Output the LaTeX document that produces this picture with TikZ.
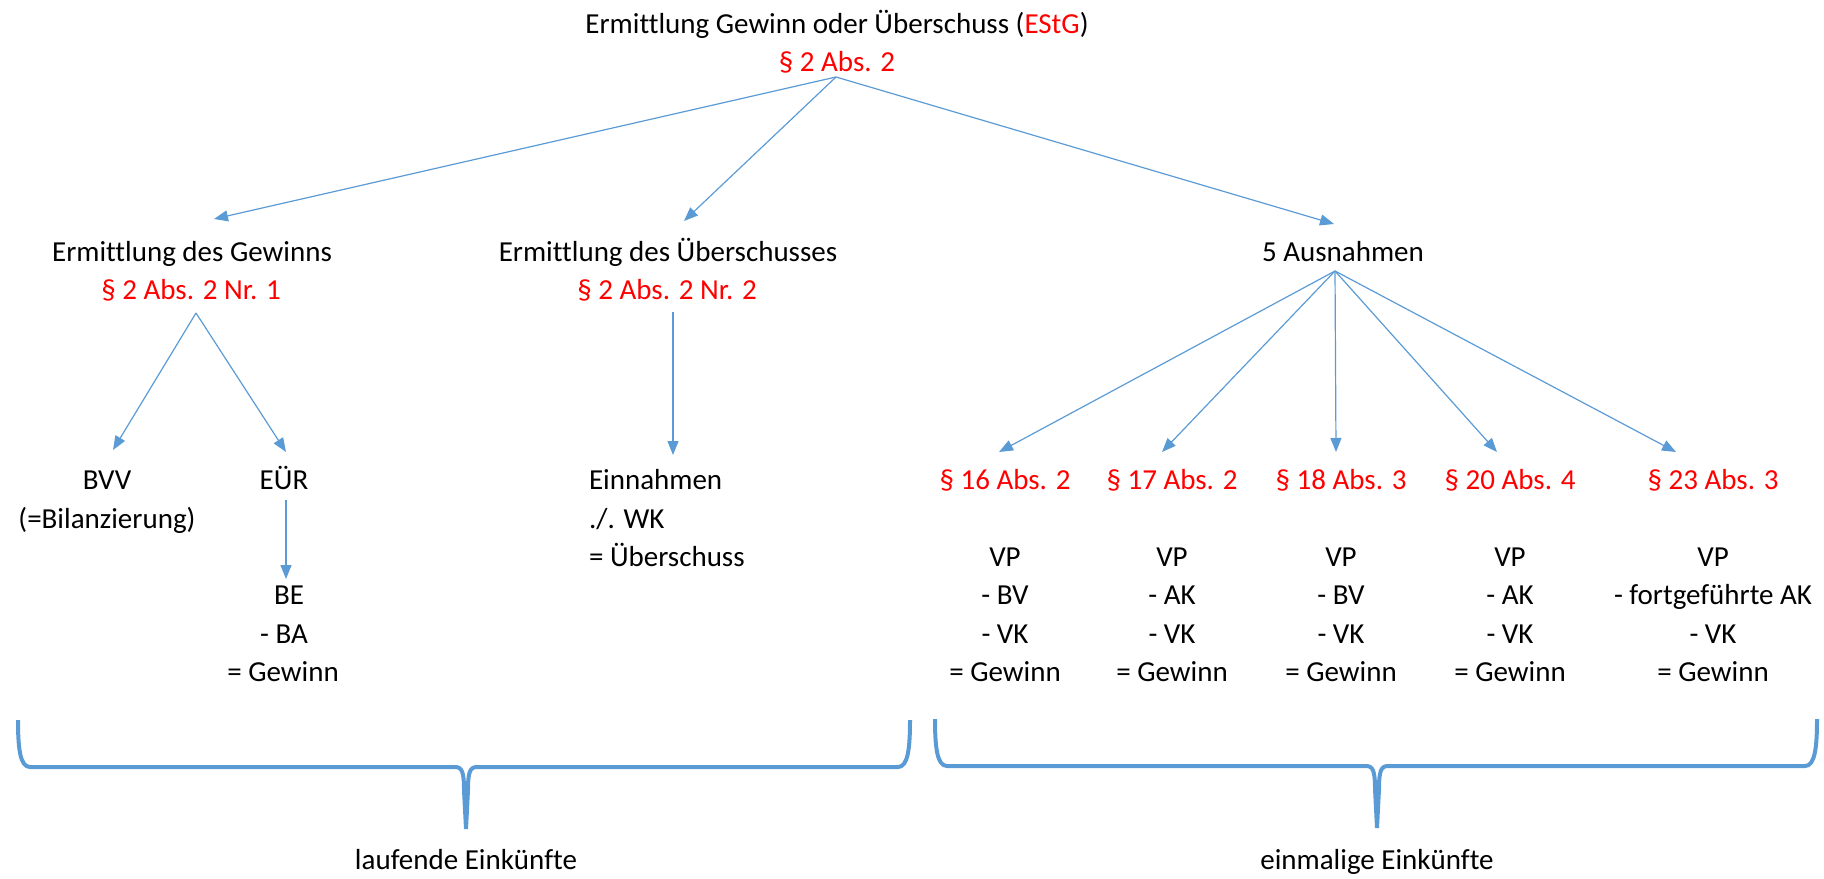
\documentclass[tikz,border=0pt]{standalone}
\usepackage{fontspec}
\setmainfont{Carlito}[Ligatures=NoCommon]
\usetikzlibrary{arrows.meta}
\definecolor{lineblue}{HTML}{5B9BD5}
\definecolor{lawred}{HTML}{FF0000}
\begin{document}
\begin{tikzpicture}[x=0.5pt,y=-0.5pt,
  txt/.style={inner sep=0pt, outer sep=0pt, font=\fontsize{14.5}{19.2}\selectfont, anchor=base},
  law/.style={txt, text=lawred},
  conn/.style={draw=lineblue, line width=0.6pt, -{Triangle[length=7pt,width=5.5pt]}},
  brace/.style={draw=lineblue, line width=2pt, line join=round}
]
\useasboundingbox (0,0) rectangle (1824,878);

% top
\node[txt] (title) at (837,33) {Ermittlung Gewinn oder Überschuss (\textcolor{lawred}{EStG})};
\node[law] (titlelaw) at (837,71) {§ 2 Abs. 2};
\coordinate (apex0) at (836,77);

% second row
\node[txt] (gew) at (192,261) {Ermittlung des Gewinns};
\node[law] (gewlaw) at (191,299) {§ 2 Abs. 2 Nr. 1};
\node[txt] (ueb) at (668,261) {Ermittlung des Überschusses};
\node[law] (ueblaw) at (667,299) {§ 2 Abs. 2 Nr. 2};
\node[txt] (aus) at (1343,261) {5 Ausnahmen};

\coordinate (tipgew) at (214,219);
\coordinate (tipueb) at (684,221);
\coordinate (tipaus) at (1334,224);
\draw[conn] (apex0) -- (tipgew);
\draw[conn] (apex0) -- (tipueb);
\draw[conn] (apex0) -- (tipaus);

% Gewinn branch
\coordinate (apexgew) at (196,313);
\coordinate (tipbvv) at (113,450);
\coordinate (tipeur) at (286,452);
\draw[conn] (apexgew) -- (tipbvv);
\draw[conn] (apexgew) -- (tipeur);
\node[txt] (bvv) at (107,489) {BVV};
\node[txt] (bil) at (107,528) {(=Bilanzierung)};
\node[txt] (eur) at (284,489) {EÜR};
\coordinate (eurbot) at (286,500);
\coordinate (tipbe) at (286,579);
\draw[conn] (eurbot) -- (tipbe);
\node[txt] (be) at (289,604) {BE};
\node[txt] (ba) at (284,643) {- BA};
\node[txt] (gw0) at (283,681) {= Gewinn};

% Ueberschuss branch
\coordinate (uebtop) at (673,312);
\coordinate (tipein) at (673,455);
\draw[conn] (uebtop) -- (tipein);
\node[txt, anchor=base west] (ein) at (589,489) {Einnahmen};
\node[txt, anchor=base west] (wk) at (589,528) {./. WK};
\node[txt, anchor=base west] (ueberschuss) at (589,566) {= Überschuss};

% Ausnahmen branch
\coordinate (apexaus) at (1335,271);
\foreach \i/\x/\tx/\sec/\sub in {
  1/1005/999/{§ 16 Abs. 2}/{- BV},
  2/1172/1162/{§ 17 Abs. 2}/{- AK},
  3/1341/1336/{§ 18 Abs. 3}/{- BV},
  4/1510/1497/{§ 20 Abs. 4}/{- AK},
  5/1713/1676/{§ 23 Abs. 3}/{- fortgeführte AK}} {
  \coordinate (tip\i) at (\tx,452);
  \draw[conn] (apexaus) -- (tip\i);
  \node[law] (sec\i) at (\x,489) {\sec};
  \node[txt] (vp\i) at (\x,566) {VP};
  \node[txt] (sub\i) at (\x,604) {\sub};
  \node[txt] (vk\i) at (\x,643) {- VK};
  \node[txt] (gw\i) at (\x,681) {= Gewinn};
}

% braces
\draw[brace] (18,720) .. controls (18,748) and (20,767) .. (30,767) -- (455,767)
  .. controls (462,767) and (464,772) .. (464,790) -- (466,829);
\draw[brace] (910,720) .. controls (910,748) and (908,767) .. (898,767) -- (477,767)
  .. controls (470,767) and (468,772) .. (468,790) -- (466,829);
\draw[brace] (935,719) .. controls (935,747) and (937,766) .. (947,766) -- (1366,766)
  .. controls (1373,766) and (1375,771) .. (1375,789) -- (1377,828);
\draw[brace] (1817,719) .. controls (1817,747) and (1815,766) .. (1805,766) -- (1388,766)
  .. controls (1381,766) and (1379,771) .. (1379,789) -- (1377,828);

\node[txt] (lauf) at (466,869) {laufende Einkünfte};
\node[txt] (einm) at (1377,869) {einmalige Einkünfte};
\end{tikzpicture}
\end{document}
